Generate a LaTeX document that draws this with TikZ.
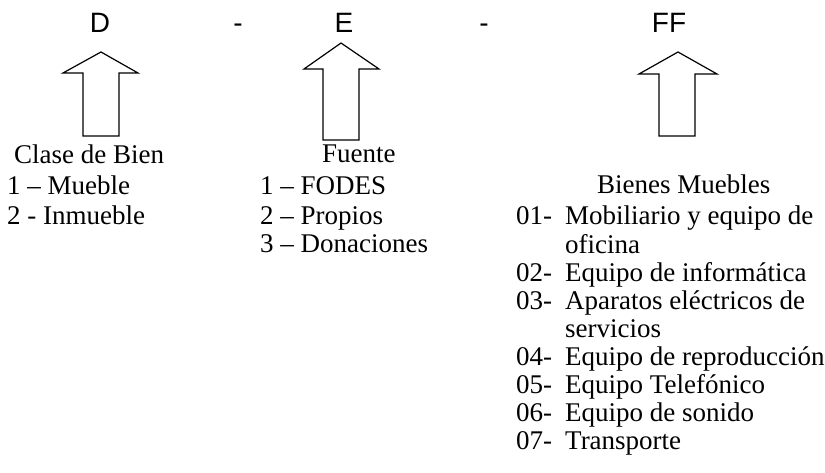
\documentclass[tikz,border=0pt]{standalone}
\usepackage{fontspec}
\setmainfont{Liberation Serif}
\newfontfamily\codefont{Liberation Sans}

\begin{document}
\begin{tikzpicture}[x=1pt,y=-1pt,
        code/.style={font=\codefont\fontsize{28}{30}\selectfont, inner sep=0pt, anchor=base},
        item/.style={font=\fontsize{27}{30}\selectfont, inner sep=0pt, anchor=base west},
        hollow/.style={draw, line width=1.2pt, line join=miter}]
                \useasboundingbox (0,0) rectangle (825,473);

                % codigo
                \node[code] (d) at (100,33) {D};
                \node[code] (dashone) at (238,33) {-};
                \node[code] (e) at (344,33) {E};
                \node[code] (dashtwo) at (484,33) {-};
                \node[code] (ff) at (669,33) {FF};

                % flechas
                \draw[hollow] (101,52) -- (138,73) -- (119,73) -- (119,136) -- (83,136) -- (83,73) -- (63,73) -- cycle;
                \draw[hollow] (341,43) -- (379,69) -- (359,69) -- (359,140) -- (323,140) -- (323,69) -- (304,69) -- cycle;
                \draw[hollow] (678,52) -- (717,74) -- (695,74) -- (695,136) -- (659,136) -- (659,74) -- (639,74) -- cycle;

                % clase de bien
                \node[item] (clase) at (14,164) {Clase de Bien};
                \node[item] (mueble) at (7,195) {1 – Mueble};
                \node[item] (inmueble) at (7,225) {2 - Inmueble};

                % fuente
                \node[item] (fuente) at (322,163) {Fuente};
                \node[item] (fodes) at (260,195) {1 – FODES};
                \node[item] (propios) at (260,225) {2 – Propios};
                \node[item] (donaciones) at (260,253) {3 – Donaciones};

                % bienes muebles
                \node[item] (bienes) at (597,194) {Bienes Muebles};
                \foreach \k/\n in {0/01-,2/02-,3/03-,5/04-,6/05-,7/06-,8/07-}
                    \node[item] (num\k) at (516,{225+28.1*\k}) {\n};
                \foreach \t [count=\k from 0] in {Mobiliario y equipo de, oficina,
                        Equipo de informática, Aparatos eléctricos de, servicios,
                        Equipo de reproducción, Equipo Telefónico, Equipo de sonido, Transporte}
                    \node[item] (txt\k) at (565,{225+28.1*\k}) {\t};
            \end{tikzpicture}
\end{document}
